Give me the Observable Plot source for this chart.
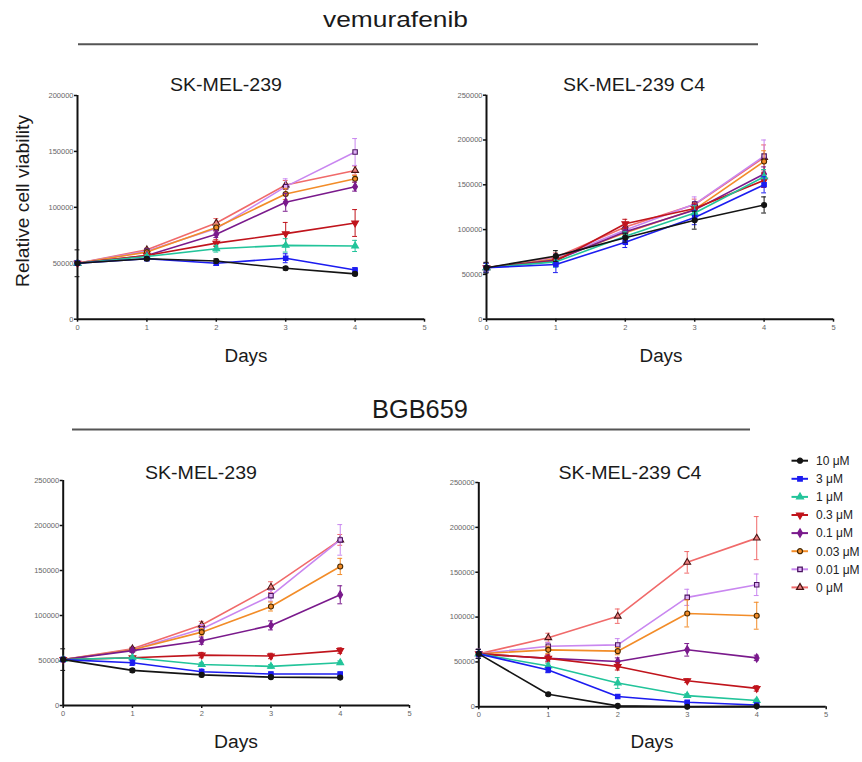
<!DOCTYPE html>
<html>
<head>
<meta charset="utf-8">
<script src="https://cdn.jsdelivr.net/npm/d3@7"></script>
<script src="https://cdn.jsdelivr.net/npm/@observablehq/plot@0.6"></script>
<style>
  html, body { margin: 0; padding: 0; background: #fff; }
  #root { position: relative; width: 862px; height: 762px; font-family: "Liberation Sans", Arial, sans-serif; overflow: hidden; }
  #root > svg, #root > div { position: absolute; }
</style>
</head>
<body>
<div id="root"></div>
<script>
// ---------- data ----------
const days = [0, 1, 2, 3, 4];
const doses = ["10 μM", "3 μM", "1 μM", "0.3 μM", "0.1 μM", "0.03 μM", "0.01 μM", "0 μM"];
const lineColors = ["#141414", "#1c1cf0", "#22c49a", "#c0141c", "#7a1a8c", "#f28c28", "#c987f0", "#f06a6a"];
const markerFills = ["#141414", "#1c1cf0", "#22c49a", "#c0141c", "#7a1a8c", "#f28c28", "#e0b0f7", "#f08080"];
const markerStrokes = ["#141414", "#1c1cf0", "#22c49a", "#c0141c", "#7a1a8c", "#4a2a00", "#4a1560", "#4a1515"];
const markerShapes = ["circle", "square", "triangle", "itriangle", "diamond", "circle", "square", "triangle"];

const yTicksTL = [0, 50000, 100000, 150000, 200000];
const yTicks250 = [0, 50000, 100000, 150000, 200000, 250000];
const xTicks = [0, 1, 2, 3, 4, 5];

// vemurafenib, SK-MEL-239
const vemSK = [
  [50000, 54000, 52000, 45500, 40500],
  [50000, 54000, 50000, 54500, 44000],
  [50000, 56000, 63000, 66000, 65500],
  [50000, 57000, 68000, 76500, 86000],
  [50000, 57000, 76000, 104500, 118500],
  [50000, 60000, 82000, 112000, 125500],
  [50000, 61000, 81000, 118500, 149500],
  [50000, 62000, 86000, 120000, 133000]
];
const vemSKerr = [
  [12000, 1500, 2000, 1500, 1500],
  [2000, 1500, 2000, 4000, 2000],
  [2000, 1500, 3000, 6000, 5000],
  [2000, 1500, 3000, 10000, 12000],
  [2000, 1500, 3000, 8000, 4000],
  [2000, 1500, 3000, 5000, 3000],
  [2000, 1500, 4000, 7000, 12000],
  [2000, 1500, 4000, 4000, 4000]
];
// vemurafenib, SK-MEL-239 C4
const vemC4 = [
  [57500, 70500, 91000, 110500, 127500],
  [57500, 61000, 86000, 113500, 150000],
  [57500, 64000, 92500, 118500, 159000],
  [57500, 65000, 106500, 123500, 155000],
  [57500, 66000, 97500, 122000, 162000],
  [57500, 67000, 96500, 122500, 176000],
  [57500, 68000, 99500, 128500, 182000],
  [57500, 69000, 103000, 128000, 180500]
];
const vemC4err = [
  [6000, 6000, 5000, 10000, 9000],
  [5000, 9000, 6000, 8000, 9000],
  [5000, 6000, 5000, 8000, 8000],
  [5000, 5000, 5000, 6000, 8000],
  [5000, 5000, 5000, 6000, 8000],
  [5000, 5000, 5000, 6000, 12000],
  [5000, 5000, 5000, 8000, 18000],
  [5000, 5000, 5000, 6000, 14000]
];
// BGB659, SK-MEL-239
const bgbSK = [
  [51000, 39000, 34000, 31500, 31000],
  [51000, 47500, 37500, 35000, 35000],
  [51000, 53000, 45500, 43500, 47500],
  [51000, 53000, 56000, 55000, 61000],
  [51000, 61000, 72000, 89000, 123000],
  [51000, 62000, 81500, 110000, 154500],
  [51000, 62000, 85000, 122000, 184000],
  [51000, 63000, 89500, 131500, 184000]
];
const bgbSKerr = [
  [12000, 2000, 2000, 1500, 1500],
  [2000, 3000, 3000, 2000, 2000],
  [2000, 2000, 2000, 2000, 2000],
  [2000, 2000, 3000, 3000, 3000],
  [2000, 2000, 4000, 5000, 10000],
  [2000, 2000, 4000, 5000, 9000],
  [2000, 2000, 5000, 6000, 17000],
  [2000, 2000, 4000, 6000, 6000]
];
// BGB659, SK-MEL-239 C4
const bgbC4 = [
  [59000, 14000, 1000, 0, 500],
  [59000, 41000, 11500, 5000, 2000],
  [59000, 45500, 26500, 12500, 7000],
  [59000, 54000, 45000, 29000, 20500],
  [59000, 54000, 50500, 63500, 54500],
  [59000, 63500, 62000, 104000, 101500],
  [59000, 67500, 69000, 122000, 136000],
  [59000, 77000, 101000, 161000, 188000]
];
const bgbC4err = [
  [5000, 1500, 500, 500, 500],
  [5000, 3000, 2000, 1500, 1000],
  [5000, 3000, 6000, 2000, 1500],
  [5000, 4000, 4000, 2000, 3000],
  [5000, 3000, 4000, 7000, 3000],
  [5000, 4000, 4000, 15000, 15000],
  [5000, 4000, 7000, 9000, 12000],
  [5000, 5000, 8000, 12000, 24000]
];

// ---------- symbols ----------
const invTriangle = {
  draw(context, size) {
    const sqrt3 = Math.sqrt(3);
    const y = -Math.sqrt(size / (sqrt3 * 3));
    context.moveTo(0, -y * 2);
    context.lineTo(-sqrt3 * y, y);
    context.lineTo(sqrt3 * y, y);
    context.closePath();
  }
};
const symbolFor = s => s === "itriangle" ? invTriangle : s;
const d3SymbolFor = s => ({circle: d3.symbolCircle, square: d3.symbolSquare, triangle: d3.symbolTriangle, diamond: d3.symbolDiamond, itriangle: invTriangle})[s];

const root = document.getElementById("root");
const FONT = '"Liberation Sans", Arial, sans-serif';

// ---------- overlay (titles, labels, legend) ----------
const ov = d3.select(root).append("svg")
  .attr("width", 862).attr("height", 762)
  .style("left", "0px").style("top", "0px")
  .style("font-family", FONT);

function label(x, y, txt, size, width, rotate) {
  const t = ov.append("text")
    .attr("x", x).attr("y", y)
    .attr("text-anchor", "middle")
    .attr("font-size", size)
    .attr("fill", "#1a1a1a")
    .text(txt);
  if (width) t.attr("textLength", width).attr("lengthAdjust", "spacingAndGlyphs");
  if (rotate) t.attr("transform", `rotate(${rotate},${x},${y})`);
}
label(395.5, 27, "vemurafenib", 22, 145);
ov.append("line").attr("x1", 78).attr("x2", 758).attr("y1", 44.3).attr("y2", 44.3).attr("stroke", "#555").attr("stroke-width", 2);
label(420, 418, "BGB659", 25, 96);
ov.append("line").attr("x1", 72).attr("x2", 750).attr("y1", 429.5).attr("y2", 429.5).attr("stroke", "#555").attr("stroke-width", 2);

label(226, 91, "SK-MEL-239", 17.5, 112);
label(634, 91, "SK-MEL-239 C4", 17.5, 142);
label(201, 479, "SK-MEL-239", 17.5, 112);
label(630, 479, "SK-MEL-239 C4", 17.5, 143);

label(246, 362, "Days", 18, 43);
label(661, 362, "Days", 18, 43);
label(236, 748, "Days", 18, 44);
label(652, 748, "Days", 18, 43);
label(29, 201, "Relative cell viability", 19, 172, -90);

// legend
const lg = ov.append("g").attr("font-size", 12);
doses.forEach((d, i) => {
  const y = 460.7 + 18.1 * i;
  lg.append("line").attr("x1", 791.5).attr("x2", 808).attr("y1", y).attr("y2", y)
    .attr("stroke", lineColors[i]).attr("stroke-width", 2);
  lg.append("path").attr("transform", `translate(800,${y})`)
    .attr("d", d3.symbol(d3SymbolFor(markerShapes[i]), 20)())
    .attr("fill", markerFills[i]).attr("stroke", markerStrokes[i]).attr("stroke-width", 1.3);
  lg.append("text").attr("x", 816).attr("y", y).attr("dy", "0.36em").attr("fill", "#222").text(d);
});

// ---------- panels ----------
function panel(values, errors, yTicks, pos) {
  const ymax = yTicks[yTicks.length - 1];
  const marks = [];
  for (let i = doses.length - 1; i >= 0; i--) {
    const rows = days.map((d, j) => ({day: d, v: values[i][j], e: errors[i][j]}));
    const lo = d => Math.max(0, d.v - d.e), hi = d => d.v + d.e;
    marks.push(Plot.ruleX(rows, {x: "day", y1: lo, y2: hi, stroke: lineColors[i], strokeWidth: 1}));
    marks.push(Plot.ruleY(rows, {y: hi, x1: d => d.day - 0.035, x2: d => d.day + 0.035, stroke: lineColors[i], strokeWidth: 1}));
    marks.push(Plot.ruleY(rows.filter(d => d.v - d.e > 0), {y: lo, x1: d => d.day - 0.035, x2: d => d.day + 0.035, stroke: lineColors[i], strokeWidth: 1}));
    marks.push(Plot.line(rows, {x: "day", y: "v", stroke: lineColors[i], strokeWidth: 1.6}));
    marks.push(Plot.dot(rows, {x: "day", y: "v", symbol: symbolFor(markerShapes[i]), r: 2.5,
      fill: markerFills[i], stroke: markerStrokes[i], strokeWidth: 1.1}));
  }
  const plot = Plot.plot({
    width: pos.width, height: pos.height,
    marginLeft: pos.ml, marginRight: pos.mr, marginTop: pos.mt, marginBottom: pos.mb,
    style: {background: "transparent", overflow: "visible", fontFamily: FONT},
    x: {domain: [0, 5]},
    y: {domain: [0, ymax]},
    marks: [
      Plot.axisX({ticks: xTicks, tickSize: 3, tickPadding: 2, fontSize: 7.5, label: null, tickFormat: d3.format("d"), fill: "#666", stroke: "#111", strokeWidth: 1.5}),
      Plot.axisY({ticks: yTicks, tickSize: 3, tickPadding: 1, fontSize: 7.5, label: null, tickFormat: d3.format("d"), fill: "#666", stroke: "#111", strokeWidth: 1.5}),
      Plot.ruleY([0], {stroke: "#111", strokeWidth: 2}),
      Plot.ruleX([0], {stroke: "#111", strokeWidth: 2}),
      ...marks
    ]
  });
  plot.style.position = "absolute";
  plot.style.left = pos.left + "px";
  plot.style.top = pos.top + "px";
  plot.style.maxWidth = "none";
  root.appendChild(plot);
}

panel(vemSK, vemSKerr, yTicksTL, {left: 0, top: 85, width: 440, height: 250, ml: 77, mr: 16, mt: 10, mb: 16.3});
panel(vemC4, vemC4err, yTicks250, {left: 430, top: 85, width: 432, height: 250, ml: 56, mr: 29, mt: 9.7, mb: 16.3});
panel(bgbSK, bgbSKerr, yTicks250, {left: 0, top: 470, width: 430, height: 250, ml: 62.7, mr: 21, mt: 10, mb: 15});
panel(bgbC4, bgbC4err, yTicks250, {left: 430, top: 470, width: 432, height: 250, ml: 48.3, mr: 36.3, mt: 12, mb: 13.7});
</script>
</body>
</html>
